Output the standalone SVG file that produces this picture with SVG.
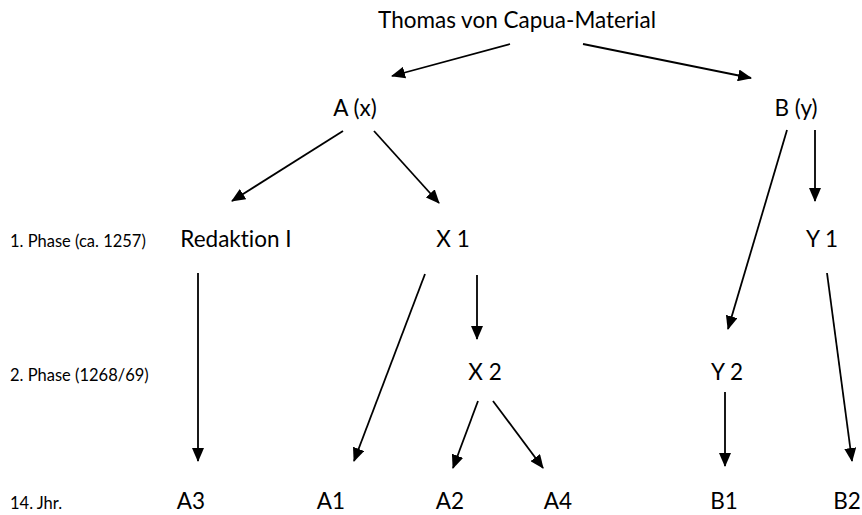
<svg xmlns="http://www.w3.org/2000/svg" width="862" height="515" viewBox="0 0 862 515">
<style>
  text { font-family: Lato, "Open Sans", "Liberation Sans", sans-serif; fill: #000; font-variant-ligatures: none; }
  .n { font-size: 22.5px; text-anchor: middle; }
  .p { font-size: 16.5px; text-anchor: start; }
  .c line { stroke: #000; stroke-width: 1.8; marker-end: url(#ah); }
</style>
<defs>
  <marker id="ah" markerUnits="userSpaceOnUse" markerWidth="14" markerHeight="12" viewBox="0 0 14 12" refX="13" refY="6" orient="auto">
    <path d="M0,0 L14,6 L0,12 Z" fill="#000"/>
  </marker>
</defs>
<rect width="862" height="515" fill="#fff"/>
<g id="labels">
  <text class="p" x="10" y="247">1. Phase (ca. 1257)</text>
  <text class="p" x="10" y="381">2. Phase (1268/69)</text>
  <text class="p" x="10" y="509">14. Jhr.</text>
</g>
<g id="n-root"><text class="n" x="517" y="28">Thomas von Capua-Material</text></g>
<g id="n-A"><text class="n" x="355" y="116">A (x)</text></g>
<g id="n-B"><text class="n" x="796" y="116">B (y)</text></g>
<g id="n-Red"><text class="n" x="236" y="247">Redaktion I</text></g>
<g id="n-X1"><text class="n" x="453" y="247">X 1</text></g>
<g id="n-Y1"><text class="n" x="822" y="247">Y 1</text></g>
<g id="n-X2"><text class="n" x="485" y="380">X 2</text></g>
<g id="n-Y2"><text class="n" x="727" y="380">Y 2</text></g>
<g id="n-A3"><text class="n" x="191" y="509">A3</text></g>
<g id="n-A1"><text class="n" x="331" y="509">A1</text></g>
<g id="n-A2"><text class="n" x="450" y="509">A2</text></g>
<g id="n-A4"><text class="n" x="558" y="509">A4</text></g>
<g id="n-B1"><text class="n" x="724" y="509">B1</text></g>
<g id="n-B2"><text class="n" x="847" y="509">B2</text></g>
<g id="connectors" class="c">
  <line x1="510" y1="44" x2="392" y2="76"/>
  <line x1="583" y1="44" x2="751" y2="78"/>
  <line x1="343" y1="131" x2="232" y2="201"/>
  <line x1="374" y1="131" x2="439" y2="203"/>
  <line x1="787" y1="130" x2="728" y2="329"/>
  <line x1="815" y1="130" x2="815" y2="201"/>
  <line x1="198" y1="273" x2="198" y2="461"/>
  <line x1="425" y1="274" x2="354" y2="461"/>
  <line x1="477" y1="275" x2="477" y2="339"/>
  <line x1="827" y1="273" x2="852" y2="461"/>
  <line x1="478" y1="401" x2="453" y2="468"/>
  <line x1="493" y1="401" x2="543" y2="468"/>
  <line x1="725" y1="392" x2="725" y2="466"/>
</g>
</svg>
